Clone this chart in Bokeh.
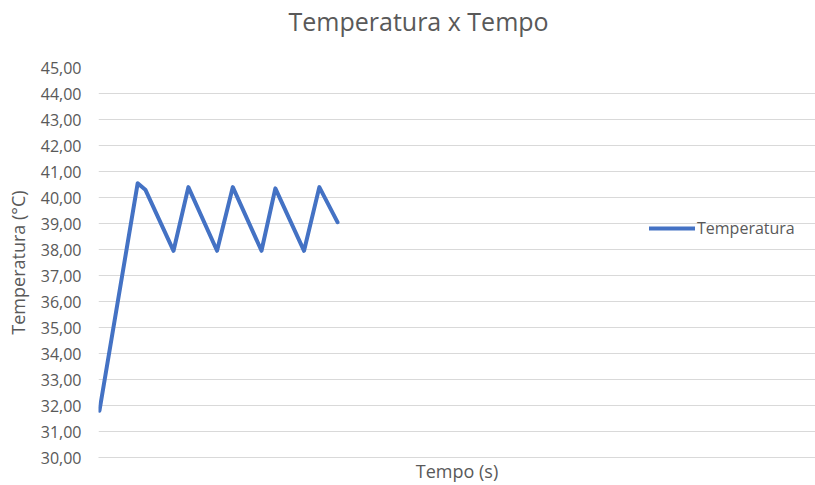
from bokeh.plotting import figure
from bokeh.models import Range1d, FixedTicker, Legend, LegendItem, LinearAxis, Title
from bokeh.embed import file_html
from bokeh.resources import INLINE

# Temperature readings (°C) over time (s): heat-up ramp, then on/off cycling
tempo = [0, 80, 96, 155, 186, 246, 279, 339, 368, 428, 460, 498]
temperatura = [31.8, 40.55, 40.3, 37.95, 40.4, 37.95, 40.4, 37.95, 40.35, 37.95, 40.4, 39.05]

# Y axis ticks and their labels (decimal comma)
y_ticks = [30, 31, 32, 33, 34, 35, 36, 37, 38, 39, 40, 41, 42, 43, 44, 45]
y_tick_labels = ["30,00", "31,00", "32,00", "33,00", "34,00", "35,00", "36,00", "37,00",
                 "38,00", "39,00", "40,00", "41,00", "42,00", "43,00", "44,00", "45,00"]

FONT = "Open Sans"
GREY = "#595959"
GRID = "#d9d9d9"
BLUE = "#4472c4"

p = figure(width=815, height=485, output_backend="svg", toolbar_location=None,
           x_range=Range1d(-2, 1498), y_range=Range1d(30, 45),
           min_border_left=98, min_border_right=0, min_border_top=67, min_border_bottom=28,
           title=None)
p.outline_line_color = None
p.background_fill_color = "white"
p.border_fill_color = "white"

# invisible spacer axis between the frame and the title (one hidden tick, blank label)
spacer = LinearAxis(ticker=FixedTicker(ticks=[700]), major_label_overrides={700: ""},
                    axis_line_color=None,
                    major_tick_out=30, major_tick_in=0, major_tick_line_color=None,
                    minor_tick_out=0, minor_tick_in=0, minor_tick_line_color=None,
                    major_label_standoff=0)
title = Title(text="Temperatura x Tempo", align="left", offset=190, standoff=0,
              text_font=FONT, text_font_size="25px", text_font_style="normal",
              text_color=GREY)
p.add_layout(spacer, "above")
p.add_layout(title, "above")

# y axis
p.yaxis.ticker = FixedTicker(ticks=y_ticks)
p.yaxis.major_label_overrides = {t: s for t, s in zip(y_ticks, y_tick_labels)}
p.yaxis.axis_line_color = None
p.yaxis.major_tick_line_color = None
p.yaxis.major_tick_out = 0
p.yaxis.major_tick_in = 0
p.yaxis.minor_tick_line_color = None
p.yaxis.major_label_standoff = 17
p.yaxis.major_label_text_font = FONT
p.yaxis.major_label_text_font_size = "16px"
p.yaxis.major_label_text_color = GREY
p.yaxis.axis_label = "Temperatura (°C)"
p.yaxis.axis_label_text_font = FONT
p.yaxis.axis_label_text_font_size = "18px"
p.yaxis.axis_label_text_font_style = "normal"
p.yaxis.axis_label_text_color = GREY
p.yaxis.axis_label_standoff = 8

# x axis: category-style, no tick labels
xaxis = p.below[0]
xaxis.ticker = FixedTicker(ticks=[])
xaxis.major_label_text_font_size = "0px"
xaxis.major_tick_out = 0
xaxis.major_tick_in = 0
xaxis.major_label_standoff = 0
xaxis.axis_line_color = GRID
xaxis.major_tick_line_color = None
xaxis.minor_tick_line_color = None
xaxis.axis_label = "Tempo (s)"
xaxis.axis_label_text_font = FONT
xaxis.axis_label_text_font_size = "18px"
xaxis.axis_label_text_font_style = "normal"
xaxis.axis_label_text_color = GREY
xaxis.axis_label_standoff = 1

p.xgrid.grid_line_color = None
p.ygrid.grid_line_color = GRID
p.ygrid.grid_line_width = 1

line = p.line(tempo, temperatura, line_color=BLUE, line_width=4,
              line_join="round", line_cap="round")

legend = Legend(items=[LegendItem(label="Temperatura", renderers=[line])],
                location=(551, 218), orientation="vertical",
                glyph_width=46, glyph_height=20, label_standoff=2,
                padding=0, margin=0, spacing=0,
                border_line_color=None, background_fill_alpha=0,
                label_text_font=FONT, label_text_font_size="16px",
                label_text_color=GREY)
p.add_layout(legend)

open("out.html", "w").write(file_html(p, INLINE))
